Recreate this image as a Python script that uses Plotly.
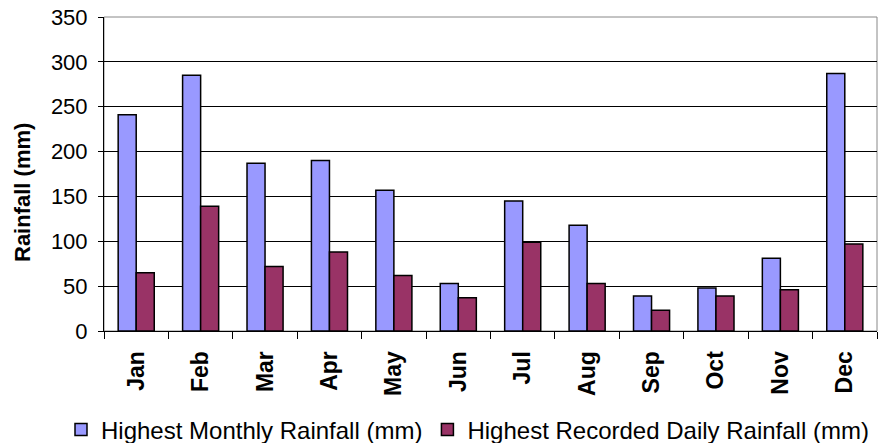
import plotly.graph_objects as go

months = ["Jan", "Feb", "Mar", "Apr", "May", "Jun", "Jul", "Aug", "Sep", "Oct", "Nov", "Dec"]
monthly_max = [241, 285, 187, 190, 157, 53, 145, 118, 39, 48, 81, 287]
daily_max = [65, 139, 72, 88, 62, 37, 99, 53, 23, 39, 46, 97]
y_ticks = [0, 50, 100, 150, 200, 250, 300, 350]
y_title = "Rainfall (mm)"

FONT = "Liberation Sans, Arial, sans-serif"
W, H = 886, 435  # page body has an 8px margin
L, R, T, B = 96, 17, 9, 112
PW, PH = W - L - R, H - T - B

fig = go.Figure()
fig.add_trace(go.Bar(x=months, y=monthly_max, name="Highest Monthly Rainfall (mm)",
                     marker=dict(color="#9999FF", line=dict(color="black", width=1.5))))
fig.add_trace(go.Bar(x=months, y=daily_max, name="Highest Recorded Daily Rainfall (mm)",
                     marker=dict(color="#993366", line=dict(color="black", width=1.5))))

fig.update_layout(
    width=W, height=H,
    margin=dict(l=L, r=R, t=T, b=B, autoexpand=False),
    paper_bgcolor="white", plot_bgcolor="white",
    barmode="group", bargap=0.44, bargroupgap=0,
    font=dict(family=FONT, color="black", size=22),
    showlegend=True,
    legend=dict(orientation="h", x=(53 - L) / PW, xanchor="left", xref="paper",
                y=-(422 - (H - B)) / PH, yanchor="middle", yref="paper",
                font=dict(size=24), itemwidth=30, tracegroupgap=0, borderwidth=0),
    shapes=[dict(type="rect", xref="paper", yref="paper", x0=0, x1=1, y0=0, y1=1,
                 line=dict(color="#888888", width=1), layer="below")],
    annotations=[dict(text="<b>" + y_title + "</b>", textangle=-90, showarrow=False,
                      xref="paper", yref="paper", x=(14 - L) / PW, y=(H - B - 185) / PH,
                      xanchor="center", yanchor="middle", font=dict(size=22))],
)
fig.update_xaxes(type="category", tickangle=-90, automargin=False,
                 tickfont=dict(size=23, family=FONT, weight="bold"), ticklabelstandoff=10,
                 showline=True, linecolor="black", linewidth=1, ticks="outside", tickson="boundaries",
                 ticklen=7, tickcolor="black", showgrid=False)
fig.update_yaxes(range=[0, 350], tickvals=y_ticks, automargin=False, showline=True, linecolor="black", linewidth=1,
                 ticks="outside", ticklen=5, tickcolor="black", showgrid=True, gridcolor="black", gridwidth=1,
                 tickfont=dict(size=22), zeroline=False, ticklabeloverflow="allow", ticklabelstandoff=6)

fig.write_html("out.html")
